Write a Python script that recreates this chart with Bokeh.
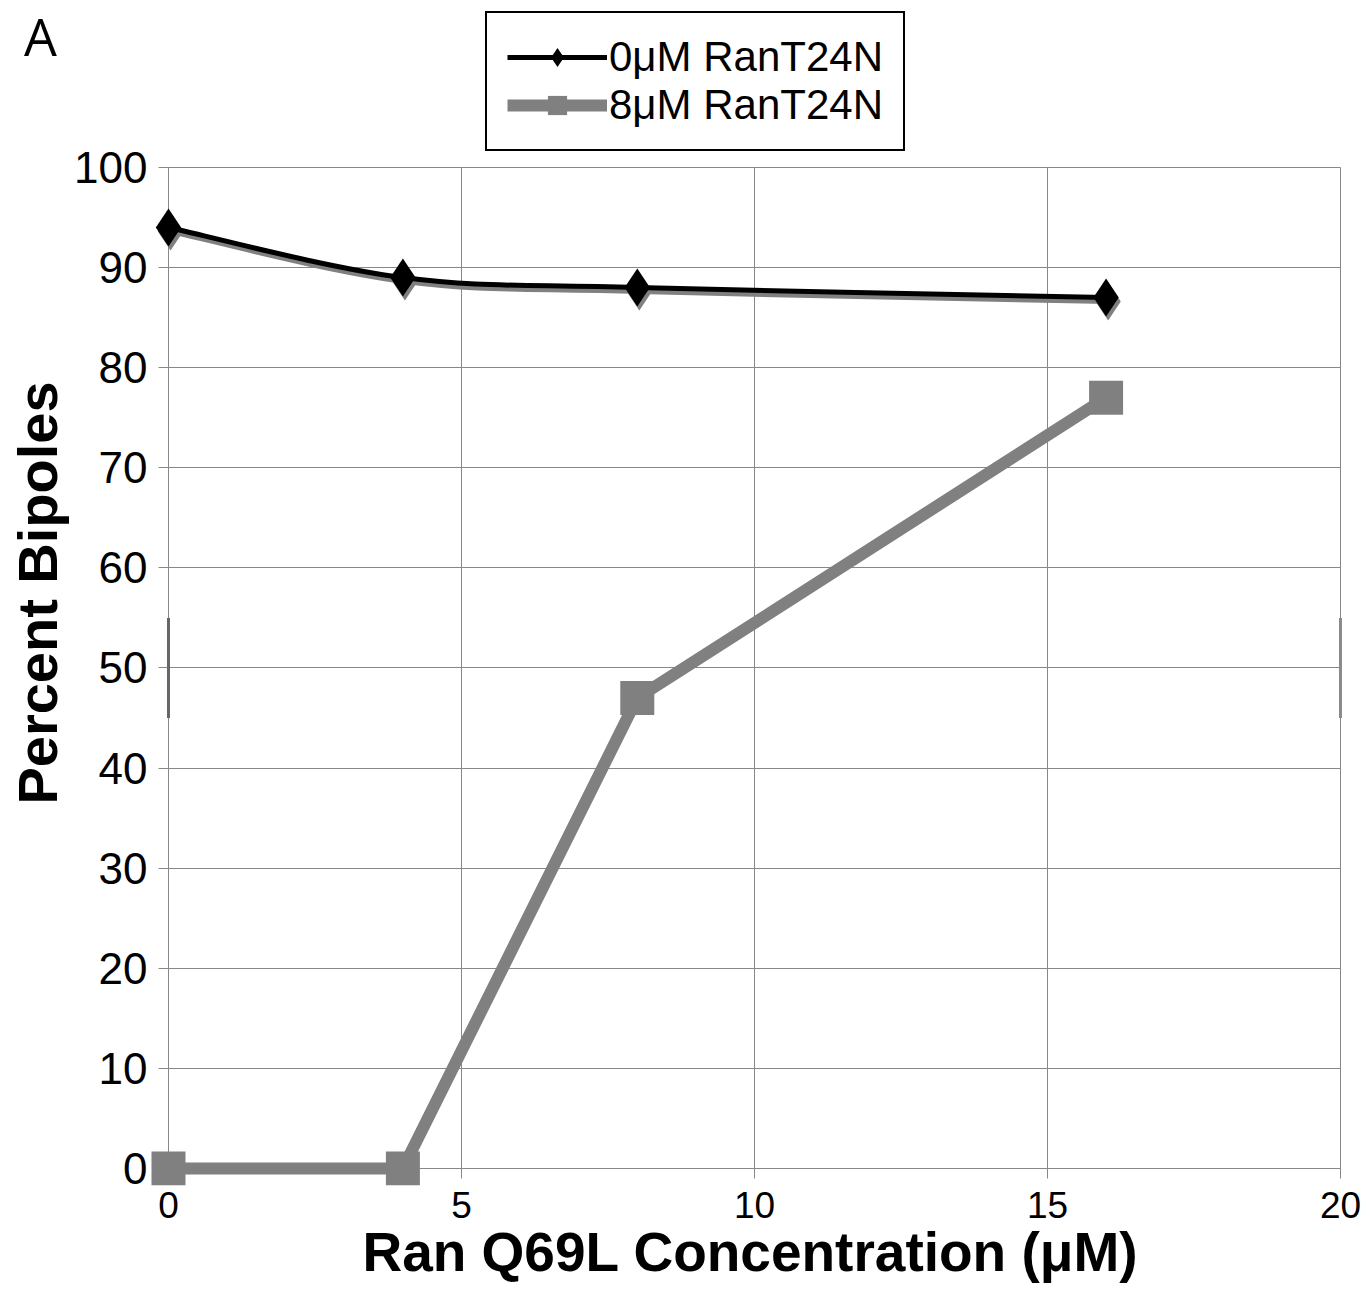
from bokeh.plotting import figure
from bokeh.models import Range1d, FixedTicker, Legend, LegendItem, Div
from bokeh.transform import dodge
from bokeh.embed import file_html
from bokeh.resources import INLINE
import numpy as np

# ---- data ----
conc = [0, 4, 8, 16]
bip_0uM = [94, 89, 88, 87]
bip_8uM = [0, 0, 47, 77]
x_ticks = [0, 5, 10, 15, 20]
y_ticks = [0, 10, 20, 30, 40, 50, 60, 70, 80, 90, 100]
series_names = ["0\u03bcM RanT24N", "8\u03bcM RanT24N"]
x_title = "Ran Q69L Concentration (\u03bcM)"
y_title = "Percent Bipoles"
panel_letter = "A"
edge_marks_x = [0, 20]
edge_marks_lo = [45, 45]
edge_marks_hi = [55, 55]

BLACK = "#000000"
GRAY = "#808080"

p = figure(width=1368, height=1294,
           x_range=Range1d(-0.307, 20.171), y_range=Range1d(-1.70, 116.68),
           output_backend="svg", toolbar_location=None,
           min_border_left=150, min_border_right=18,
           min_border_top=0, min_border_bottom=109)
p.outline_line_color = None
p.background_fill_color = "white"
p.border_fill_color = "white"

# axes
p.xaxis.ticker = FixedTicker(ticks=x_ticks)
p.yaxis.ticker = FixedTicker(ticks=y_ticks)
for ax in (p.xaxis[0], p.yaxis[0]):
    ax.axis_line_color = None
    ax.major_tick_line_color = None
    ax.minor_tick_line_color = None
    ax.major_tick_out = 0
    ax.major_tick_in = 0
    ax.major_label_text_font = "Liberation Sans"
    ax.major_label_text_color = "black"
    ax.axis_label_text_font = "Liberation Sans"
    ax.axis_label_text_font_style = "bold"
    ax.axis_label_text_color = "black"
p.xaxis.major_label_text_font_size = "37px"
p.yaxis.major_label_text_font_size = "44px"
p.xaxis.major_label_standoff = 6
p.yaxis.major_label_standoff = 3
p.xaxis.axis_label = x_title
p.yaxis.axis_label = y_title
p.xaxis.axis_label_text_font_size = "55px"
p.yaxis.axis_label_text_font_size = "56px"
p.xaxis.axis_label_standoff = 0
p.yaxis.axis_label_standoff = 2

# grid
p.xgrid.grid_line_color = "#888888"
p.ygrid.grid_line_color = "#888888"
p.xgrid.grid_line_width = 1
p.ygrid.grid_line_width = 1
p.xgrid.cross_bounds = (-1.0, 100)
p.ygrid.cross_bounds = (-0.17, 20)

# small edge marks
p.segment(x0=edge_marks_x, y0=edge_marks_lo, x1=edge_marks_x, y1=edge_marks_hi,
          line_color=["#666666", "#8a8a8a"], line_width=3)

# smoothed black series (Bezier through the data, Catmull-Rom control points)
xa = np.array(conc, dtype=float)
ya = np.array(bip_0uM, dtype=float)
xp = np.r_[xa[0], xa, xa[-1]]
yp = np.r_[ya[0], ya, ya[-1]]
n = len(xa)
x0s, y0s, x1s, y1s, cx0, cy0, cx1, cy1 = ([] for _ in range(8))
for i in range(n - 1):
    x0s.append(xp[i + 1]); y0s.append(yp[i + 1])
    x1s.append(xp[i + 2]); y1s.append(yp[i + 2])
    cx0.append(xp[i + 1] + (xp[i + 2] - xp[i]) / 6.0)
    cy0.append(yp[i + 1] + (yp[i + 2] - yp[i]) / 6.0)
    cx1.append(xp[i + 2] - (xp[i + 3] - xp[i + 1]) / 6.0)
    cy1.append(yp[i + 2] - (yp[i + 3] - yp[i + 1]) / 6.0)

sdx, sdy = 0.035, -0.4  # drop shadow offset
p.bezier(x0=[v + sdx for v in x0s], y0=[v + sdy for v in y0s],
         x1=[v + sdx for v in x1s], y1=[v + sdy for v in y1s],
         cx0=[v + sdx for v in cx0], cy0=[v + sdy for v in cy0],
         cx1=[v + sdx for v in cx1], cy1=[v + sdy for v in cy1],
         line_color=GRAY, line_width=5, line_cap="round")
p.scatter(x=dodge("x", sdx, range=p.x_range), y=dodge("y", sdy, range=p.y_range),
          source=dict(x=conc, y=bip_0uM), marker="diamond", size=38,
          fill_color=GRAY, line_color=None)

p.bezier(x0=x0s, y0=y0s, x1=x1s, y1=y1s, cx0=cx0, cy0=cy0, cx1=cx1, cy1=cy1,
         line_color=BLACK, line_width=5, line_cap="round")
leg_line0 = p.line(x=[np.nan], y=[np.nan], line_color=BLACK, line_width=5)
dia = p.scatter(conc, bip_0uM, marker="diamond", size=38, fill_color=BLACK, line_color=None)

# gray series
line8 = p.line(conc, bip_8uM, line_color=GRAY, line_width=12, line_join="miter")
sq8 = p.scatter(conc, bip_8uM, marker="square", size=34, fill_color=GRAY, line_color=None)

legend = Legend(items=[LegendItem(label=series_names[0], renderers=[leg_line0, dia]),
                       LegendItem(label=series_names[1], renderers=[line8, sq8])],
                location=(335, 1034))
legend.label_text_font = "Liberation Sans"
legend.label_text_font_size = "42px"
legend.label_text_color = "black"
legend.glyph_width = 100
legend.glyph_height = 48
legend.label_height = 48
legend.label_standoff = 2
legend.padding = 20
legend.spacing = 0
legend.margin = 0
legend.border_line_color = "black"
legend.border_line_alpha = 1
legend.border_line_width = 2
legend.background_fill_color = "white"
legend.background_fill_alpha = 1
p.add_layout(legend)

# panel letter, floated over the top-left corner of the page
a_div = Div(text=panel_letter,
            styles={"position": "absolute", "left": "24px", "top": "5px",
                    "font-family": "Open Sans", "font-size": "52px",
                    "line-height": "1.2", "color": "black", "z-index": "10"})
try:
    p.elements.append(a_div)
except Exception:
    pass

open("out.html", "w").write(file_html(p, INLINE))
